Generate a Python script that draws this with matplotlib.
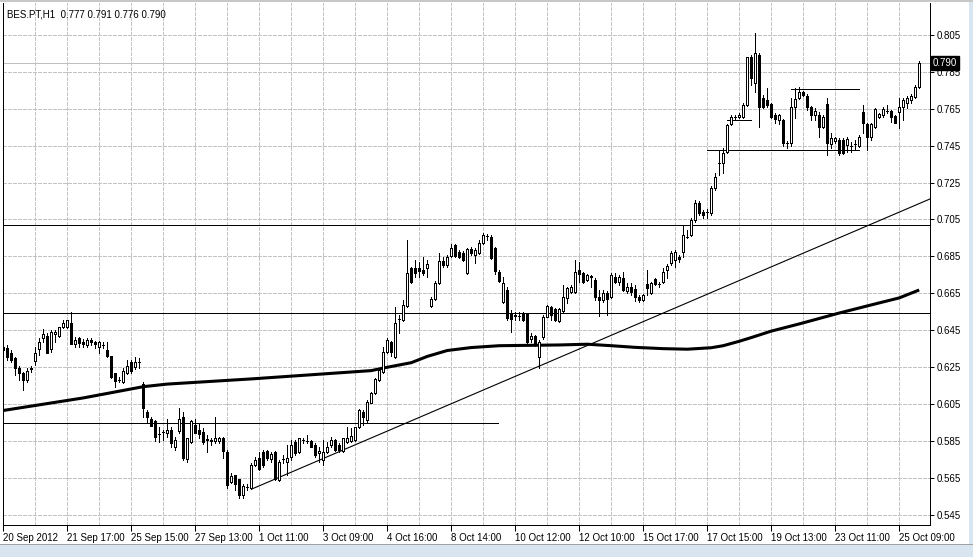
import matplotlib
matplotlib.use("Agg")
import matplotlib.pyplot as plt
from matplotlib.patches import Rectangle
from matplotlib.lines import Line2D
import matplotlib.transforms as mtransforms
import numpy as np

# ---------------- data ----------------
symbol = "BES.PT"
timeframe = "H1"

opens = [
    .6359, .6354, .6327, .6300, .6246, .6219, .6181, .6246, .6284, .6349,
    .6408, .6419, .6349, .6430, .6419, .6468, .6468, .6489, .6376, .6408,
    .6386, .6370, .6397, .6386, .6359, .6370, .6343, .6311, .6219, .6181,
    .6170, .6219, .6278, .6251, .6278, .6159, .6007, .5969, .5958, .5888,
    .5898, .5893, .5909, .5817, .5904, .5980, .5752, .5844, .5936, .5909,
    .5898, .5861, .5855, .5850, .5850, .5866, .5790, .5628, .5666, .5644,
    .5557, .5601, .5595, .5720, .5758, .5790, .5796, .5752, .5790, .5639,
    .5752, .5736, .5763, .5844, .5790, .5855, .5850, .5850, .5828, .5785,
    .5747, .5790, .5828, .5855, .5828, .5796, .5844, .5850, .5855, .5926,
    .6007, .5963, .6055, .6110, .6181, .6224, .6332, .6386, .6305, .6511,
    .6505, .6581, .6788, .6788, .6788, .6777, .6788, .6581, .6619, .6707,
    .6826, .6804, .6853, .6912, .6874, .6869, .6761, .6890, .6858, .6869,
    .6923, .6961, .6955, .6896, .6766, .6603, .6668, .6543, .6533, .6527,
    .6543, .6543, .6403, .6419, .6305, .6413, .6522, .6576, .6565, .6500,
    .6554, .6625, .6657, .6657, .6777, .6761, .6723, .6744, .6723, .6630,
    .6614, .6652, .6630, .6739, .6712, .6734, .6663, .6685, .6674, .6630,
    .6614, .6701, .6652, .6728, .6701, .6712, .6777, .6815, .6831, .6847,
    .6874, .6955, .6966, .7047, .7139, .7091, .7091, .7085, .7221, .7356,
    .7356, .7416, .7568, .7606, .7606, .7606, .7671, .7931, .7790, .7942,
    .7709, .7698, .7676, .7616, .7589, .7589, .7465, .7465, .7660, .7709,
    .7741, .7720, .7660, .7616, .7616, .7551, .7676, .7459, .7476, .7481,
    .7481, .7454, .7448, .7459, .7448, .7633, .7568, .7497, .7551, .7606,
    .7616, .7638, .7638, .7611, .7633, .7660, .7682, .7698, .7714, .7770,
]
highs = [
    .6397, .6370, .6343, .6305, .6257, .6224, .6246, .6257, .6359, .6408,
    .6457, .6435, .6451, .6451, .6468, .6505, .6505, .6549, .6413, .6413,
    .6403, .6408, .6408, .6392, .6392, .6386, .6386, .6311, .6219, .6197,
    .6246, .6289, .6289, .6305, .6300, .6170, .6018, .5980, .5963, .5926,
    .5909, .5969, .5926, .5871, .6028, .6007, .5866, .5963, .5969, .5947,
    .5920, .5882, .5866, .5980, .5871, .5871, .5801, .5677, .5666, .5644,
    .5617, .5617, .5731, .5763, .5790, .5801, .5801, .5790, .5796, .5747,
    .5774, .5828, .5855, .5855, .5866, .5866, .5882, .5855, .5839, .5817,
    .5855, .5844, .5871, .5861, .5839, .5866, .5926, .5920, .5926, .6023,
    .6018, .6072, .6116, .6192, .6246, .6359, .6408, .6392, .6576, .6533,
    .6614, .6939, .6793, .6831, .6820, .6847, .6831, .6630, .6718, .6869,
    .6847, .6858, .6918, .6918, .6885, .6880, .6896, .6901, .6896, .6939,
    .6977, .6972, .6966, .6901, .6777, .6739, .6685, .6560, .6549, .6549,
    .6549, .6543, .6435, .6424, .6397, .6533, .6587, .6581, .6570, .6570,
    .6695, .6685, .6695, .6831, .6820, .6766, .6756, .6750, .6734, .6668,
    .6668, .6663, .6761, .6761, .6750, .6766, .6707, .6707, .6695, .6641,
    .6646, .6777, .6712, .6734, .6712, .6788, .6809, .6880, .6885, .6858,
    .7020, .6993, .7058, .7156, .7150, .7101, .7107, .7232, .7302, .7427,
    .7438, .7568, .7616, .7616, .7627, .7682, .7931, .7942, .8061, .7952,
    .7725, .7763, .7682, .7627, .7622, .7595, .7476, .7709, .7763, .7768,
    .7747, .7731, .7665, .7654, .7633, .7616, .7709, .7519, .7497, .7492,
    .7492, .7497, .7470, .7481, .7508, .7671, .7573, .7573, .7654, .7627,
    .7660, .7671, .7644, .7616, .7709, .7709, .7720, .7731, .7779, .7910,
]
lows = [
    .6332, .6289, .6278, .6208, .6181, .6126, .6170, .6224, .6262, .6316,
    .6386, .6327, .6332, .6386, .6413, .6462, .6462, .6376, .6359, .6359,
    .6359, .6359, .6370, .6354, .6327, .6354, .6305, .6192, .6143, .6170,
    .6165, .6213, .6219, .6240, .6246, .5980, .5947, .5931, .5850, .5844,
    .5855, .5871, .5817, .5801, .5893, .5747, .5736, .5840, .5893, .5866,
    .5834, .5790, .5828, .5839, .5839, .5758, .5595, .5623, .5584, .5541,
    .5541, .5584, .5590, .5715, .5693, .5709, .5747, .5736, .5639, .5633,
    .5731, .5666, .5747, .5774, .5785, .5839, .5839, .5817, .5763, .5736,
    .5720, .5785, .5817, .5796, .5790, .5790, .5839, .5844, .5850, .5920,
    .5936, .5953, .6055, .6105, .6175, .6219, .6327, .6311, .6300, .6435,
    .6500, .6576, .6707, .6739, .6739, .6750, .6739, .6576, .6614, .6701,
    .6793, .6793, .6847, .6847, .6842, .6826, .6756, .6858, .6815, .6863,
    .6918, .6939, .6836, .6756, .6712, .6597, .6505, .6440, .6505, .6505,
    .6500, .6381, .6386, .6365, .6246, .6403, .6520, .6505, .6500, .6495,
    .6549, .6597, .6652, .6652, .6712, .6707, .6718, .6685, .6614, .6527,
    .6603, .6533, .6625, .6707, .6695, .6663, .6652, .6641, .6608, .6603,
    .6608, .6641, .6646, .6695, .6685, .6707, .6734, .6804, .6793, .6820,
    .6847, .6950, .6961, .7036, .7074, .7058, .7058, .7074, .7210, .7291,
    .7302, .7411, .7562, .7589, .7600, .7600, .7665, .7779, .7741, .7551,
    .7654, .7660, .7600, .7573, .7568, .7448, .7438, .7448, .7600, .7703,
    .7720, .7644, .7589, .7589, .7497, .7546, .7400, .7438, .7465, .7400,
    .7405, .7416, .7416, .7427, .7443, .7519, .7427, .7481, .7546, .7600,
    .7606, .7627, .7578, .7573, .7546, .7589, .7654, .7682, .7709, .7760,
]
closes = [
    .6343, .6305, .6289, .6246, .6219, .6181, .6230, .6240, .6327, .6386,
    .6430, .6327, .6440, .6440, .6468, .6489, .6505, .6376, .6397, .6381,
    .6376, .6397, .6386, .6376, .6386, .6368, .6311, .6197, .6175, .6181,
    .6230, .6257, .6230, .6278, .6278, .6028, .5980, .5931, .5871, .5885,
    .5896, .5909, .5839, .5855, .5969, .5758, .5866, .5958, .5893, .5888,
    .5844, .5855, .5850, .5866, .5866, .5796, .5612, .5660, .5617, .5557,
    .5606, .5599, .5720, .5747, .5698, .5720, .5758, .5779, .5644, .5736,
    .5750, .5758, .5828, .5785, .5866, .5853, .5848, .5817, .5774, .5796,
    .5790, .5817, .5855, .5801, .5801, .5866, .5866, .5877, .5926, .6018,
    .5980, .6061, .6110, .6186, .6235, .6332, .6397, .6332, .6489, .6508,
    .6587, .6761, .6712, .6761, .6772, .6761, .6809, .6619, .6707, .6826,
    .6804, .6847, .6896, .6853, .6847, .6831, .6890, .6869, .6885, .6923,
    .6966, .6959, .6842, .6772, .6718, .6707, .6516, .6511, .6527, .6525,
    .6505, .6386, .6419, .6370, .6386, .6522, .6581, .6533, .6505, .6565,
    .6630, .6679, .6685, .6766, .6756, .6712, .6750, .6739, .6630, .6614,
    .6652, .6619, .6750, .6712, .6739, .6668, .6685, .6658, .6630, .6614,
    .6641, .6679, .6707, .6701, .6699, .6766, .6799, .6869, .6874, .6836,
    .6966, .6953, .7047, .7139, .7085, .7074, .7089, .7221, .7280, .7354,
    .7411, .7562, .7606, .7604, .7616, .7671, .7931, .7817, .7952, .7660,
    .7660, .7671, .7606, .7595, .7616, .7465, .7463, .7660, .7703, .7741,
    .7725, .7660, .7616, .7638, .7551, .7606, .7465, .7492, .7492, .7411,
    .7411, .7486, .7446, .7457, .7497, .7573, .7497, .7568, .7649, .7622,
    .7649, .7636, .7606, .7573, .7660, .7698, .7709, .7720, .7768, .7900,
]

# moving average (thick line) read at selected bars
ma_bar = [0, 20, 35, 41, 62, 80, 92, 95, 102, 106, 111, 117, 124, 139, 146,
          152, 158, 165, 171, 177, 180, 184, 187, 192, 199, 209, 217, 224, 229]
ma_val = [0.6015, 0.6083, 0.6144, 0.6158, 0.6186, 0.6213, 0.6231, 0.6245,
          0.6274, 0.6308, 0.6340, 0.6356, 0.6366, 0.6370, 0.6374, 0.6366,
          0.6357, 0.6350, 0.6347, 0.6355, 0.6366, 0.6390, 0.6410, 0.6445,
          0.6484, 0.6543, 0.6587, 0.6625, 0.6668]

# full-width horizontal levels
full_levels = [0.7020, 0.6542]
# partial horizontal levels: (price, start bar, end bar)
seg_level = [0.5945, 0.7427, 0.7757, 0.7589]
seg_start = [-1.0, 175.9, 196.9, 180.85]
seg_end = [123.7, 213.9, 213.9, 186.9]

# trend line anchor points (bar, price); ray extends to the right
trend_bar = [62.1, 125.85]
trend_price = [0.5589, 0.6180]

x_labels = ["20 Sep 2012", "21 Sep 17:00", "25 Sep 15:00", "27 Sep 13:00",
            "1 Oct 11:00", "3 Oct 09:00", "4 Oct 16:00", "8 Oct 14:00",
            "10 Oct 12:00", "12 Oct 10:00", "15 Oct 17:00", "17 Oct 15:00",
            "19 Oct 13:00", "23 Oct 11:00", "25 Oct 09:00"]
bars_per_label = 16
bars_per_grid = 8
y_ticks = [0.545, 0.565, 0.585, 0.605, 0.625, 0.645, 0.665, 0.685, 0.705,
           0.725, 0.745, 0.765, 0.785, 0.805]

# ---------------- figure ----------------
W, H = 973, 557
FONT = "Liberation Sans"
FS = 7
PX = 0.72  # one pixel in points at 100 dpi
fig = plt.figure(figsize=(W / 100, H / 100), dpi=100)
fig.patch.set_facecolor("white")
ax = fig.add_axes([3 / W, (H - 525) / H, 927 / W, 522 / H])
ax.set_facecolor("white")

n = len(opens)
idx = np.arange(n)
o = np.array(opens); hi = np.array(highs); lo = np.array(lows); c = np.array(closes)

ax.set_xlim(-0.1, 231.7)
ax.set_ylim(0.53942, 0.82234)

# grid
grid_kw = dict(color="#c4c4c4", lw=PX, linestyle=(0, (3, 2)), zorder=0.5,
               antialiased=False)
for k in range(0, 232, bars_per_grid):
    ax.axvline(k, **grid_kw)
for yv in y_ticks:
    ax.axhline(yv, **grid_kw)

# bid line
ax.axhline(c[-1], color="#c0c0c0", lw=PX, zorder=0.8, antialiased=False)

# moving average
ax.plot(ma_bar, ma_val, color="black", lw=2.2, zorder=1.5,
        solid_capstyle="butt", solid_joinstyle="round")

# horizontal levels
for lv in full_levels:
    ax.axhline(lv, color="black", lw=PX, zorder=1.6, antialiased=False)
for lv, s, e in zip(seg_level, seg_start, seg_end):
    ax.plot([s, e], [lv, lv], color="black", lw=PX, zorder=1.6, antialiased=False)

# trend ray
slope = (trend_price[1] - trend_price[0]) / (trend_bar[1] - trend_bar[0])
x_end = ax.get_xlim()[1]
ax.plot([trend_bar[0], x_end],
        [trend_price[0], trend_price[0] + slope * (x_end - trend_bar[0])],
        color="black", lw=0.8, zorder=1.7)

# candles
ax.vlines(idx, lo, hi, color="black", lw=PX, zorder=2, antialiased=False)
up = c >= o
body_bottom = np.minimum(o, c)
body_h = np.abs(c - o)
ax.bar(idx, body_h, bottom=body_bottom, width=0.5,
       color=np.where(up, "white", "black"), edgecolor="black",
       linewidth=PX, zorder=3, antialiased=False)

# axes styling
for sp in ["left", "bottom", "right"]:
    ax.spines[sp].set_color("black")
    ax.spines[sp].set_linewidth(PX)
ax.spines["top"].set_visible(False)

ax.yaxis.tick_right()
ax.set_yticks(y_ticks)
ax.set_yticklabels([f"{v:.3f}" for v in y_ticks], fontsize=FS, family=FONT)
ax.tick_params(axis="y", direction="out", length=3, width=PX, pad=2,
               colors="black")

xt = np.arange(len(x_labels)) * bars_per_label
ax.set_xticks(xt)
ax.set_xticklabels(x_labels, fontsize=FS, family=FONT, ha="left")
ax.tick_params(axis="x", direction="out", length=4, width=PX, pad=2,
               colors="black")

# price tag of last close
trans = mtransforms.blended_transform_factory(ax.transAxes, ax.transData)
ax.text(1.0 + 3 / 927, c[-1], f"{c[-1]:.3f}", transform=trans, ha="left",
        va="center", fontsize=FS, family=FONT, color="white", zorder=10,
        bbox=dict(boxstyle="square,pad=0.2", fc="black", ec="black"),
        clip_on=False)

# header text
fig.text(7 / W, 1 - 14.5 / H,
         f"{symbol},{timeframe}  {o[-1]:.3f} {hi[-1]:.3f} {lo[-1]:.3f} {c[-1]:.3f}",
         ha="left", va="center", fontsize=FS, family=FONT, color="black")

# window chrome: top border and bottom tab strip
fig.patches.append(Rectangle((0, 1 - 2 / H), 1, 2 / H, transform=fig.transFigure,
                             facecolor="#c8c8c8", edgecolor="none", zorder=0))
fig.patches.append(Rectangle((0, 0), 1, 13 / H, transform=fig.transFigure,
                             facecolor="#d9e4f1", edgecolor="none", zorder=0))
fig.lines.append(Line2D([0, 1], [13 / H, 13 / H], transform=fig.transFigure,
                        color="#a0a0a0", lw=PX))
fig.patches.append(Rectangle((969 / W, 13 / H), 4 / W, 1 - 15 / H,
                             transform=fig.transFigure, facecolor="#d9e4f1",
                             edgecolor="none", zorder=0))

fig.savefig("out.png", dpi=100, facecolor="white")
